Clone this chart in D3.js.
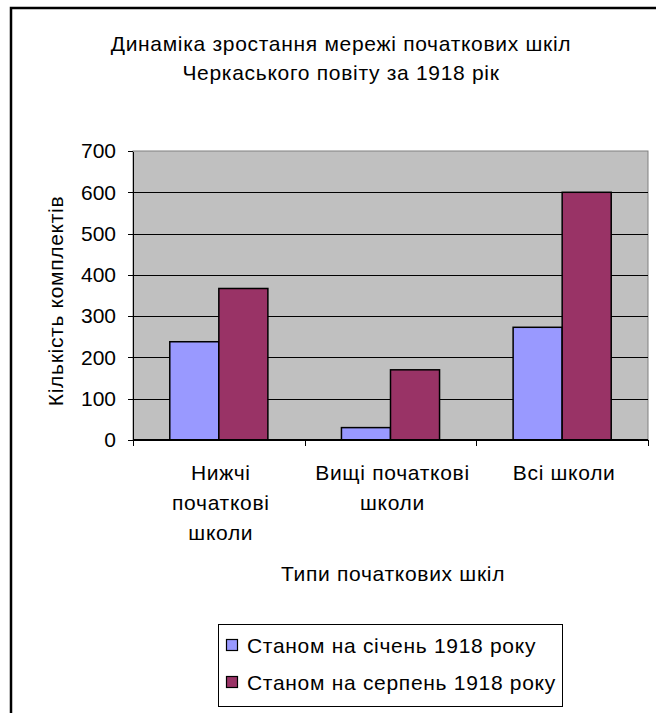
<!DOCTYPE html>
<html>
<head>
<meta charset="utf-8">
<title>Динаміка зростання мережі початкових шкіл</title>
<script src="https://d3js.org/d3.v7.min.js"></script>
<style>
body { margin: 0; background: #fff; }
text { font-family: "Liberation Sans", Arial, sans-serif; fill: #000; font-size: 21px; }
.lbl { letter-spacing: 0.7px; }
.axis path, .axis line { stroke: #000; shape-rendering: crispEdges; }
.grid line { stroke: #000; shape-rendering: crispEdges; }
</style>
</head>
<body>
<script>
const categories = [["Нижчі", "початкові", "школи"], ["Вищі початкові", "школи"], ["Всі школи"]];
const seriesNames = ["Станом на січень 1918 року", "Станом на серпень 1918 року"];
const january = [238, 30, 273];
const august = [367, 170, 600];
const yTicks = [0, 100, 200, 300, 400, 500, 600, 700];
const colors = ["#9999ff", "#993366"];

const W = 656, H = 713;
const plot = {left: 133, right: 648, top: 151, bottom: 440};

const svg = d3.select("body").append("svg")
    .attr("width", W).attr("height", H);

// frame of the chart area
svg.append("path")
    .attr("d", "M11,713V8H656")
    .attr("fill", "none").attr("stroke", "#000").attr("stroke-width", 2.5);

// title
svg.append("text").attr("class", "lbl").attr("x", 341).attr("y", 51).attr("text-anchor", "middle")
    .text("Динаміка зростання мережі початкових шкіл");
svg.append("text").attr("class", "lbl").attr("x", 341).attr("y", 80).attr("text-anchor", "middle")
    .text("Черкаського повіту за 1918 рік");

const x0 = d3.scaleBand().domain(d3.range(categories.length))
    .range([plot.left, plot.right]).paddingInner(0).paddingOuter(0);
const gap = 1.5; // Excel gap width 150%
const barW = x0.bandwidth() / (2 + gap);
const y = d3.scaleLinear().domain([0, 700]).range([plot.bottom, plot.top]);

// plot background
svg.append("rect")
    .attr("x", plot.left).attr("y", plot.top)
    .attr("width", plot.right - plot.left).attr("height", plot.bottom - plot.top)
    .attr("fill", "#c0c0c0").attr("stroke", "#808080").attr("stroke-width", 1);

// gridlines
svg.append("g").attr("class", "grid")
  .selectAll("line").data(yTicks.filter(d => d > 0 && d < 700)).join("line")
    .attr("x1", plot.left).attr("x2", plot.right)
    .attr("y1", d => Math.round(y(d)) + 0.5).attr("y2", d => Math.round(y(d)) + 0.5);

// bars
const series = [january, august];
series.forEach((vals, s) => {
  svg.append("g").selectAll("rect").data(vals).join("rect")
    .attr("x", (d, i) => x0(i) + barW * gap / 2 + s * barW)
    .attr("y", d => y(d))
    .attr("width", barW)
    .attr("height", d => y(0) - y(d))
    .attr("fill", colors[s])
    .attr("stroke", "#000").attr("stroke-width", 1.5);
});

// y axis
const yAxis = svg.append("g").attr("class", "axis")
    .attr("transform", `translate(${plot.left},0)`)
    .call(d3.axisLeft(y).tickValues(yTicks).tickSize(5).tickSizeOuter(0).tickPadding(12));
yAxis.select(".domain").attr("stroke-width", 1.5);
yAxis.selectAll("text").style("font-size", "21px").attr("font-family", null);

// x axis
const xAxis = svg.append("g").attr("class", "axis")
    .attr("transform", `translate(0,${plot.bottom})`);
xAxis.append("line").attr("x1", plot.left).attr("x2", plot.right)
    .attr("stroke-width", 1.5);
xAxis.selectAll(".tk").data(d3.range(categories.length + 1)).join("line")
    .attr("class", "tk")
    .attr("x1", i => Math.round(plot.left + i * x0.step()) + 0.5)
    .attr("x2", i => Math.round(plot.left + i * x0.step()) + 0.5)
    .attr("y1", 0).attr("y2", 6);

categories.forEach((lines, i) => {
  const cx = x0(i) + x0.bandwidth() / 2 + 2;
  const t = svg.append("text").attr("class", "lbl").attr("text-anchor", "middle")
      .attr("x", cx).attr("y", 480);
  lines.forEach((ln, k) => t.append("tspan")
      .attr("x", cx).attr("dy", k ? 30 : 0).text(ln));
});

// axis titles
svg.append("text").attr("class", "lbl").attr("x", 393).attr("y", 581).attr("text-anchor", "middle")
    .text("Типи початкових шкіл");
svg.append("text").attr("class", "lbl").attr("transform", "translate(63,301) rotate(-90)")
    .attr("text-anchor", "middle")
    .text("Кількість комплектів");

// legend
const lg = svg.append("g");
lg.append("rect").attr("x", 218.5).attr("y", 624.5).attr("width", 344).attr("height", 82)
    .attr("fill", "#fff").attr("stroke", "#000").attr("stroke-width", 1);
seriesNames.forEach((name, s) => {
  const base = 653 + s * 37;
  lg.append("rect").attr("x", 226.5).attr("y", base - 13.5).attr("width", 11).attr("height", 11)
      .attr("fill", colors[s]).attr("stroke", "#000").attr("stroke-width", 1.2);
  lg.append("text").attr("class", "lbl").attr("x", 247).attr("y", base).text(name);
});
</script>
</body>
</html>
